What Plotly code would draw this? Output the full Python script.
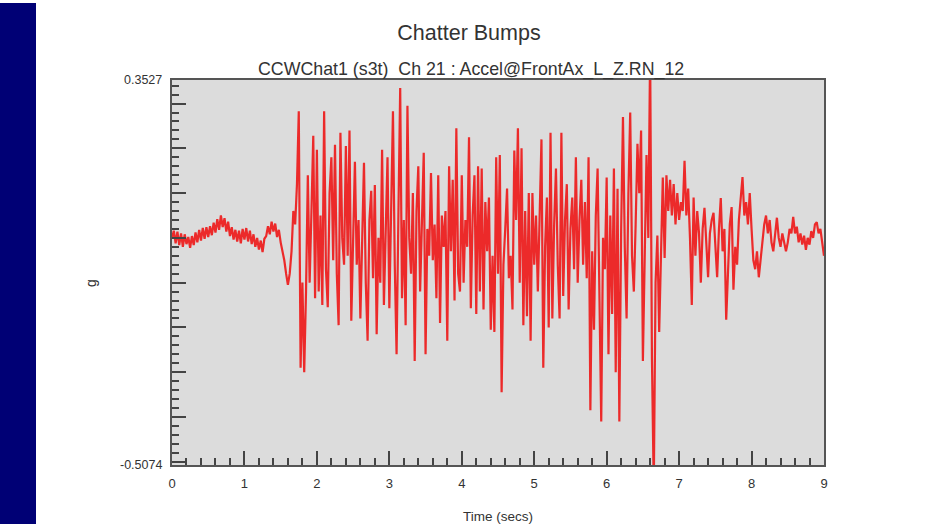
import numpy as np
import plotly.graph_objects as go

# ---- data -------------------------------------------------------------
sample_interval = 0.025          # seconds between samples
y_range = [-0.5074, 0.3527]      # g
x_range = [0, 9]                 # secs
title_text = "Chatter Bumps"
subtitle_text = "CCWChat1 (s3t)\u00a0 Ch 21 : Accel@FrontAx_L_Z.RN_12"
x_title = "Time (secs)"
y_title = "g"

# acceleration (g), 0.025 s apart
accel_quiet = [
    0.000, 0.016, -0.012, 0.014, -0.016, 0.010, -0.020, 0.008, -0.014, 0.002,
    -0.022, 0.004, -0.016, 0.012, -0.010, 0.018, -0.006, 0.022, -0.002, 0.024,
    0.002, 0.026, 0.006, 0.034, 0.012, 0.042, 0.018, 0.050, 0.024, 0.044,
    0.014, 0.036, 0.004, 0.024, -0.004, 0.018, -0.008, 0.016, -0.012, 0.020,
    -0.004, 0.022, -0.008, 0.016, -0.014, 0.008, -0.020, 0.000, -0.026, -0.006,
    -0.032, -0.002, 0.004, 0.026, 0.008, 0.036, 0.014, 0.032, 0.002, 0.018,
    -0.010, -0.030, -0.050, -0.080, -0.105, -0.080, -0.030, 0.060, 0.030, 0.120,
]
accel_chatter_a = [
    0.283, -0.290, -0.100, -0.300, -0.120, 0.140, -0.100, 0.060, 0.228, -0.135,
    0.197, -0.120, 0.050, -0.150, 0.283, -0.070, -0.155, 0.100, 0.180, -0.050,
    0.208, -0.080, -0.195, 0.235, 0.000, -0.060, 0.205, -0.040, 0.240, -0.185,
    0.020, 0.170, -0.060, 0.040, -0.180, 0.020, 0.168, -0.100, -0.230, 0.040,
    0.105, -0.090, 0.118, -0.215, 0.000, -0.100, 0.197, -0.150, 0.040, 0.180,
    -0.157, 0.060, 0.283, -0.060, -0.260, 0.050, 0.335, -0.135, 0.040, -0.195,
    0.295, 0.000, -0.080, 0.100, -0.275, 0.060, 0.160, -0.120, 0.030, 0.190,
]
accel_chatter_b = [
    -0.260, 0.020, -0.040, 0.145, -0.050, 0.030, -0.135, 0.140, -0.190, 0.050,
    -0.020, 0.060, -0.230, 0.160, -0.030, 0.130, -0.140, 0.245, -0.080, -0.120,
    0.140, -0.100, 0.040, -0.020, 0.225, -0.157, 0.050, 0.140, -0.170, 0.160,
    -0.120, 0.155, -0.160, 0.080, -0.030, 0.090, -0.205, -0.040, -0.210, 0.180,
    -0.080, 0.185, -0.345, -0.060, 0.020, 0.110, -0.090, -0.040, -0.160, 0.195,
    0.040, 0.245, -0.100, 0.200, -0.195, 0.060, -0.175, 0.100, -0.230, 0.100,
    -0.060, 0.050, -0.120, 0.030, 0.220, -0.290, -0.020, 0.090, -0.200, 0.235,
    -0.180, 0.030, 0.155, -0.060, -0.180, 0.235, -0.130, 0.040, 0.120, -0.160,
]
accel_chatter_c = [
    0.020, 0.090, -0.070, 0.180, -0.100, 0.040, 0.130, -0.060, 0.080, -0.090,
    0.180, -0.385, -0.030, -0.205, 0.050, 0.155, -0.090, -0.410, 0.000, -0.070,
    0.135, -0.260, 0.050, -0.170, 0.155, -0.300, 0.110, -0.410, 0.020, 0.270,
    -0.020, -0.180, 0.100, 0.280, -0.040, -0.120, 0.030, 0.210, 0.100, 0.240,
    -0.275, 0.000, 0.185, 0.000, 0.420, -0.270, -0.560, -0.100, 0.005, -0.210,
]
accel_tail = [
    -0.060, 0.135, -0.045, 0.140, 0.060, 0.130, 0.050, 0.120, 0.030, 0.100,
    0.040, 0.080, 0.060, 0.172, 0.050, 0.110, 0.000, -0.150, 0.090, -0.040,
    0.060, 0.010, -0.100, 0.020, 0.067, -0.020, -0.088, 0.010, 0.040, 0.056,
    -0.010, -0.088, 0.020, 0.089, -0.030, 0.020, -0.183, -0.050, 0.030, 0.069,
    -0.116, -0.020, -0.060, 0.040, 0.090, 0.136, 0.050, 0.080, 0.030, 0.100,
    0.020, -0.050, -0.070, -0.030, -0.088, -0.050, -0.010, 0.030, 0.050, 0.010,
    0.040, -0.010, -0.030, 0.010, 0.045, 0.000, -0.020, 0.010, -0.010, -0.030,
    -0.010, 0.020, 0.010, 0.047, 0.010, 0.025, -0.010, 0.010, -0.015, 0.005,
    -0.027, 0.000, -0.015, 0.015, 0.000, 0.030, 0.035, 0.010, 0.020, -0.010,
    -0.040,
]

accel = accel_quiet + accel_chatter_a + accel_chatter_b + accel_chatter_c + accel_tail
time = np.arange(len(accel)) * sample_interval

# ---- figure -----------------------------------------------------------
W, H = 935, 524
ML, MR, MT, MB = 172, 111, 80, 59
PW, PH = W - ML - MR, H - MT - MB
FONT = "Liberation Sans, Arial, sans-serif"
TXT = "#333333"
TICKC = "#444444"

fig = go.Figure()
fig.add_trace(go.Scatter(
    x=time, y=accel, mode="lines",
    line=dict(color="rgba(238,10,10,0.85)", width=2.2),
    hoverinfo="skip", showlegend=False,
))

fig.update_layout(
    width=W, height=H,
    margin=dict(l=ML, r=MR, t=MT, b=MB, autoexpand=False),
    paper_bgcolor="white", plot_bgcolor="#dcdcdc",
    font=dict(family=FONT, color=TXT, size=13),
    title=dict(text=title_text, x=469 / W, xref="container",
               xanchor="center", y=1 - 32 / H, yanchor="middle",
               font=dict(size=21.5, color=TXT, family=FONT)),
    xaxis=dict(range=x_range, showgrid=False, zeroline=False,
               showline=True, linecolor="#555555", linewidth=1.5, mirror=True,
               tickmode="linear", tick0=0, dtick=1,
               ticks="inside", ticklen=14, tickwidth=1.5, tickcolor=TICKC,
               minor=dict(ticks="inside", dtick=0.2, tick0=0, ticklen=7,
                          tickwidth=1.5, tickcolor=TICKC, showgrid=False),
               tickfont=dict(size=13, color=TXT), ticklabelstandoff=6,
               title=dict(text=x_title, font=dict(size=13.5, color=TXT), standoff=24),
               automargin=False),
    yaxis=dict(range=y_range, showgrid=False, zeroline=False,
               showline=True, linecolor="#555555", linewidth=1.5, mirror=True,
               tickmode="linear", tick0=0, dtick=0.1,
               ticks="inside", ticklen=14, tickwidth=1.5, tickcolor=TICKC,
               minor=dict(ticks="inside", dtick=0.02, tick0=0, ticklen=7,
                          tickwidth=1.5, tickcolor=TICKC, showgrid=False),
               showticklabels=False, automargin=False),
)

# end-of-range labels on the y axis
for v in y_range:
    fig.add_annotation(x=0, xref="paper", y=v, yref="y", text=f"{v:.4f}",
                       showarrow=False, xanchor="right", yanchor="middle",
                       xshift=-8, font=dict(size=12.5, color=TXT, family=FONT))

# y axis title and subtitle
fig.add_annotation(x=(93 - ML) / PW, xref="paper", y=(H - MB - 283) / PH, yref="paper",
                   text=y_title, textangle=-90, showarrow=False, xshift=-12,
                   font=dict(size=14, color=TXT, family=FONT))
fig.add_annotation(x=(471 - ML) / PW, xref="paper", y=(H - MB - 69) / PH, yref="paper",
                   text=subtitle_text, showarrow=False, xanchor="center", yanchor="middle",
                   font=dict(size=17.8, color=TXT, family=FONT))

# navy side band of the slide
fig.add_shape(type="rect", xref="paper", yref="paper",
              x0=(0 - ML) / PW, x1=(36 - ML) / PW,
              y0=(H - MB - H) / PH, y1=(H - MB - 3) / PH,
              fillcolor="#000075", line=dict(width=0), layer="below")

fig.write_html("out.html", config={"displayModeBar": False},
               post_script="document.body.style.margin='0';document.body.style.overflow='hidden';")
